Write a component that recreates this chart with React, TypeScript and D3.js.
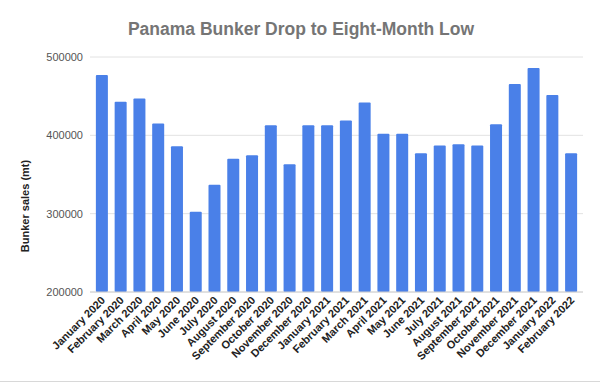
import React from "react";
import * as d3 from "d3";

const months: string[] = [
  "January 2020", "February 2020", "March 2020", "April 2020", "May 2020", "June 2020",
  "July 2020", "August 2020", "September 2020", "October 2020", "November 2020", "December 2020",
  "January 2021", "February 2021", "March 2021", "April 2021", "May 2021", "June 2021",
  "July 2021", "August 2021", "September 2021", "October 2021", "November 2021", "December 2021",
  "January 2022", "February 2022",
];
const sales: number[] = [
  477000, 443000, 447000, 415000, 386000, 302500,
  337000, 370000, 374500, 413000, 363000, 413000,
  413000, 419000, 442000, 402000, 402000, 377000,
  387000, 388500, 387000, 414000, 465500, 486000,
  451500, 377000,
];
const yTicks: number[] = [200000, 300000, 400000, 500000];
const title = "Panama Bunker Drop to Eight-Month Low";
const yTitle = "Bunker sales (mt)";

export default function App() {
  const W = 600, H = 383;
  const plotL = 90, plotR = 583, top = 57, bottom = 292;
  const x = d3.scaleBand<string>().domain(months).range([92.5, 580.5]).paddingInner(0.36).paddingOuter(0.18);
  const y = d3.scaleLinear().domain([200000, 500000]).range([bottom, top]);
  return (
    <svg width={W} height={H} style={{ position: "absolute", left: 0, top: 0, background: "#fff" }}
      fontFamily="Liberation Sans, Arial, sans-serif">
      <rect x={0} y={0} width={W} height={H} fill="#fff" />
      <text x={301} y={35} textAnchor="middle" fontSize={17.5} fontWeight="bold" fill="#757575">{title}</text>
      {yTicks.map((t) => (
        <g key={t}>
          <line x1={plotL} x2={plotR} y1={y(t)} y2={y(t)} stroke="#e2e2e2" strokeWidth={1} />
          <text x={83} y={y(t)} dy="0.35em" textAnchor="end" fontSize={11} fill="#555">{t}</text>
        </g>
      ))}
      {months.map((m, i) => (
        <rect key={m} x={x(m)} y={y(sales[i])} width={x.bandwidth()} height={bottom - y(sales[i])} fill="#4a80e8" rx={1} />
      ))}
      <line x1={plotL} x2={plotR} y1={bottom} y2={bottom} stroke="#d0d0d0" strokeWidth={1} />
      {months.map((m) => {
        const cx = (x(m) as number) + x.bandwidth() / 2 + 4;
        const cy = bottom + 9;
        return (
          <text key={m} transform={`translate(${cx},${cy}) rotate(-45)`} textAnchor="end" fontSize={11}
            fontWeight="bold" fill="#222">{m}</text>
        );
      })}
      <text transform={`translate(29,206) rotate(-90)`} textAnchor="middle" fontSize={11} fontWeight="bold" fill="#222">{yTitle}</text>
      <line x1={0} x2={W} y1={381.5} y2={381.5} stroke="#d8d8d8" strokeWidth={1} />
    </svg>
  );
}
